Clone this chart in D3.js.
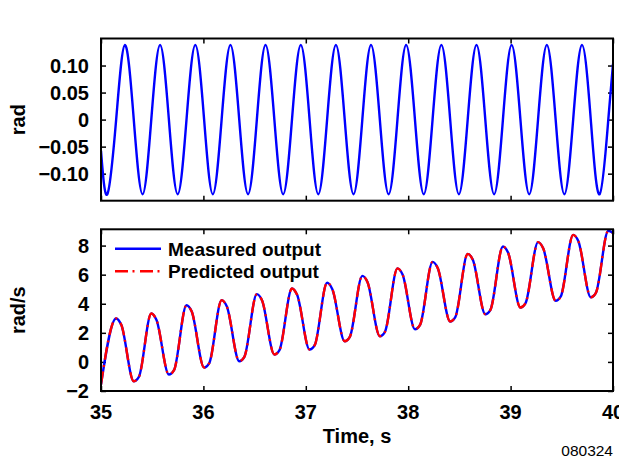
<!DOCTYPE html>
<html>
<head>
<meta charset="utf-8">
<script src="https://cdn.jsdelivr.net/npm/d3@7"></script>
<style>
  html, body { margin: 0; padding: 0; background: #fff; }
  svg { display: block; }
  text { font-family: "Liberation Sans", Arial, Helvetica, sans-serif; }
</style>
</head>
<body>
<svg id="chart" width="619" height="461"></svg>
<script>
// ---- Data ----
const xTicks = [35, 36, 37, 38, 39, 40];
const topYTicks = [0.10, 0.05, 0, -0.05, -0.10];
const topYTickLabels = ["0.10", "0.05", "0", "\u22120.05", "\u22120.10"];
const bottomYTicks = [8, 6, 4, 2, 0, -2];
const bottomYTickLabels = ["8", "6", "4", "2", "0", "\u22122"];

// Top panel: angle (rad) – troughs, zero crossings and peaks
const angleTime = [35.000, 35.062, 35.148, 35.234, 35.320, 35.406, 35.491, 35.577, 35.663, 35.749,
  35.835, 35.921, 36.007, 36.092, 36.178, 36.264, 36.350, 36.436, 36.522, 36.607,
  36.693, 36.779, 36.865, 36.951, 37.037, 37.122, 37.208, 37.294, 37.380, 37.466,
  37.552, 37.637, 37.723, 37.809, 37.895, 37.980, 38.066, 38.152, 38.238, 38.324,
  38.410, 38.495, 38.581, 38.667, 38.753, 38.839, 38.925, 39.010, 39.096, 39.182,
  39.268, 39.354, 39.440, 39.525, 39.611, 39.697, 39.783, 39.869, 39.954, 40.000];
const angleRad = [-0.058, -0.138, 0, 0.138, 0, -0.138, 0, 0.138, 0, -0.138,
  0, 0.138, 0, -0.138, 0, 0.138, 0, -0.138, 0, 0.138,
  0, -0.138, 0, 0.138, 0, -0.138, 0, 0.138, 0, -0.138,
  0, 0.138, 0, -0.138, 0, 0.138, 0, -0.138, 0, 0.138,
  0, -0.138, 0, 0.138, 0, -0.138, 0, 0.138, 0, -0.138,
  0, 0.138, 0, -0.138, 0, 0.138, 0, -0.138, 0, 0.103];

// Bottom panel: angular rate (rad/s) – peaks, troughs and their shoulders
const rateTime = [35.000, 35.148, 35.198, 35.320, 35.370, 35.491, 35.541, 35.663, 35.713,
  35.835, 35.885, 36.007, 36.057, 36.178, 36.228, 36.350, 36.400, 36.522, 36.572,
  36.693, 36.743, 36.865, 36.915, 37.037, 37.087, 37.208, 37.258, 37.380, 37.430,
  37.552, 37.602, 37.723, 37.773, 37.895, 37.945, 38.066, 38.116, 38.238, 38.288,
  38.410, 38.460, 38.581, 38.631, 38.753, 38.803, 38.925, 38.975, 39.096, 39.146,
  39.268, 39.318, 39.440, 39.490, 39.611, 39.661, 39.783, 39.833, 39.954, 40.000];
const measuredRate = [-1.55, 2.99, 2.55, -1.33, -1.03, 3.33, 2.90, -0.87, -0.57,
  3.90, 3.48, -0.39, -0.09, 4.25, 3.83, 0.05, 0.35, 4.66, 4.24,
  0.51, 0.81, 5.05, 4.62, 0.85, 1.15, 5.44, 5.02, 1.42, 1.72,
  5.92, 5.50, 1.77, 2.07, 6.43, 6.01, 2.25, 2.55, 6.88, 6.46,
  2.78, 3.08, 7.43, 7.03, 3.28, 3.58, 7.94, 7.52, 3.74, 4.04,
  8.24, 7.82, 4.20, 4.50, 8.74, 8.32, 4.45, 4.75, 9.02, 8.86];
const predictedRate = measuredRate.slice();

const legendLabels = ["Measured output", "Predicted output"];

// ---- Layout ----
const svg = d3.select("#chart");
const left = 101, right = 613;
const topPanel = { y0: 38.5, y1: 200.7 };
const botPanel = { y0: 229.3, y1: 391 };
const tickLen = 5;
const fontSize = 20;
const dashPattern = "13,4.5,2,5.5";

const x = d3.scaleLinear().domain([35, 40]).range([left, right]);
const yTop = d3.scaleLinear().domain([-0.15, 0.15]).range([topPanel.y1, topPanel.y0]);
const yBot = d3.scaleLinear().domain([-2, 9.12]).range([botPanel.y1, botPanel.y0]);

function drawPanel(y, panel, yTicks, yLabels, showX) {
  const g = svg.append("g");
  const clipId = "clip" + Math.round(panel.y0);
  svg.append("clipPath").attr("id", clipId)
    .append("rect").attr("x", left).attr("y", panel.y0)
    .attr("width", right - left).attr("height", panel.y1 - panel.y0);

  // inward ticks on all four sides using d3 axes
  const axL = d3.axisRight(y).tickValues(yTicks).tickSize(tickLen).tickFormat("");
  const axR = d3.axisLeft(y).tickValues(yTicks).tickSize(tickLen).tickFormat("");
  const axB = d3.axisTop(x).tickValues(xTicks).tickSize(tickLen).tickFormat("");
  const axT = d3.axisBottom(x).tickValues(xTicks).tickSize(tickLen).tickFormat("");
  const gl = g.append("g").attr("transform", `translate(${left},0)`).call(axL);
  const gr = g.append("g").attr("transform", `translate(${right},0)`).call(axR);
  const gb = g.append("g").attr("transform", `translate(0,${panel.y1})`).call(axB);
  const gt = g.append("g").attr("transform", `translate(0,${panel.y0})`).call(axT);
  [gl, gr, gb, gt].forEach(a => {
    a.select(".domain").remove();
    a.selectAll(".tick line").attr("stroke", "#000").attr("stroke-width", 1.5);
  });

  // y tick labels
  g.append("g").selectAll("text").data(yTicks).join("text")
    .attr("x", left - 12).attr("y", d => y(d))
    .attr("dy", "0.36em")
    .attr("text-anchor", "end")
    .attr("font-size", fontSize).attr("font-weight", "bold")
    .text((d, i) => yLabels[i]);

  if (showX) {
    g.append("g").selectAll("text").data(xTicks).join("text")
      .attr("x", d => x(d)).attr("y", panel.y1 + 28)
      .attr("text-anchor", "middle")
      .attr("font-size", fontSize).attr("font-weight", "bold")
      .text(d => d);
  }
  return clipId;
}

const clipTop = drawPanel(yTop, topPanel, topYTicks, topYTickLabels, false);
const clipBot = drawPanel(yBot, botPanel, bottomYTicks, bottomYTickLabels, true);

// Top curve
const angleData = angleTime.map((t, i) => [t, angleRad[i]]);
svg.append("path")
  .attr("clip-path", `url(#${clipTop})`)
  .attr("d", d3.line().x(d => x(d[0])).y(d => yTop(d[1])).curve(d3.curveNatural)(angleData))
  .attr("fill", "none").attr("stroke", "#0000ff").attr("stroke-width", 2.4);

// Bottom curves
const measData = rateTime.map((t, i) => [t, measuredRate[i]]);
const predData = rateTime.map((t, i) => [t, predictedRate[i]]);
const lineB = d3.line().x(d => x(d[0])).y(d => yBot(d[1])).curve(d3.curveMonotoneX);
svg.append("path")
  .attr("clip-path", `url(#${clipBot})`)
  .attr("d", lineB(measData))
  .attr("fill", "none").attr("stroke", "#0000ff").attr("stroke-width", 2.4);
svg.append("path")
  .attr("clip-path", `url(#${clipBot})`)
  .attr("d", lineB(predData))
  .attr("fill", "none").attr("stroke", "#ff0000").attr("stroke-width", 2.4)
  .attr("stroke-dasharray", dashPattern);

// Frames
[topPanel, botPanel].forEach(p => {
  svg.append("rect").attr("x", left).attr("y", p.y0)
    .attr("width", right - left).attr("height", p.y1 - p.y0)
    .attr("fill", "none").attr("stroke", "#000").attr("stroke-width", 2);
});

// Legend
const legY = [248.7, 271.2];
const legStyles = [
  { color: "#0000ff", dash: null },
  { color: "#ff0000", dash: dashPattern }
];
legendLabels.forEach((lab, i) => {
  svg.append("line").attr("x1", 115).attr("x2", 161)
    .attr("y1", legY[i]).attr("y2", legY[i])
    .attr("stroke", legStyles[i].color).attr("stroke-width", 2.4)
    .attr("stroke-dasharray", legStyles[i].dash);
  svg.append("text").attr("x", 168).attr("y", legY[i])
    .attr("dy", "0.36em")
    .attr("font-size", 19).attr("font-weight", "bold")
    .text(lab);
});

// Axis titles
svg.append("text")
  .attr("transform", `translate(25,${(topPanel.y0 + topPanel.y1) / 2}) rotate(-90)`)
  .attr("text-anchor", "middle")
  .attr("font-size", fontSize).attr("font-weight", "bold")
  .text("rad");
svg.append("text")
  .attr("transform", `translate(25,${(botPanel.y0 + botPanel.y1) / 2}) rotate(-90)`)
  .attr("text-anchor", "middle")
  .attr("font-size", fontSize).attr("font-weight", "bold")
  .text("rad/s");
svg.append("text")
  .attr("x", (left + right) / 2).attr("y", 442.7)
  .attr("text-anchor", "middle")
  .attr("font-size", fontSize).attr("font-weight", "bold")
  .text("Time, s");
svg.append("text")
  .attr("x", 613).attr("y", 456)
  .attr("text-anchor", "end")
  .attr("font-size", 15.5)
  .text("080324");
</script>
</body>
</html>
